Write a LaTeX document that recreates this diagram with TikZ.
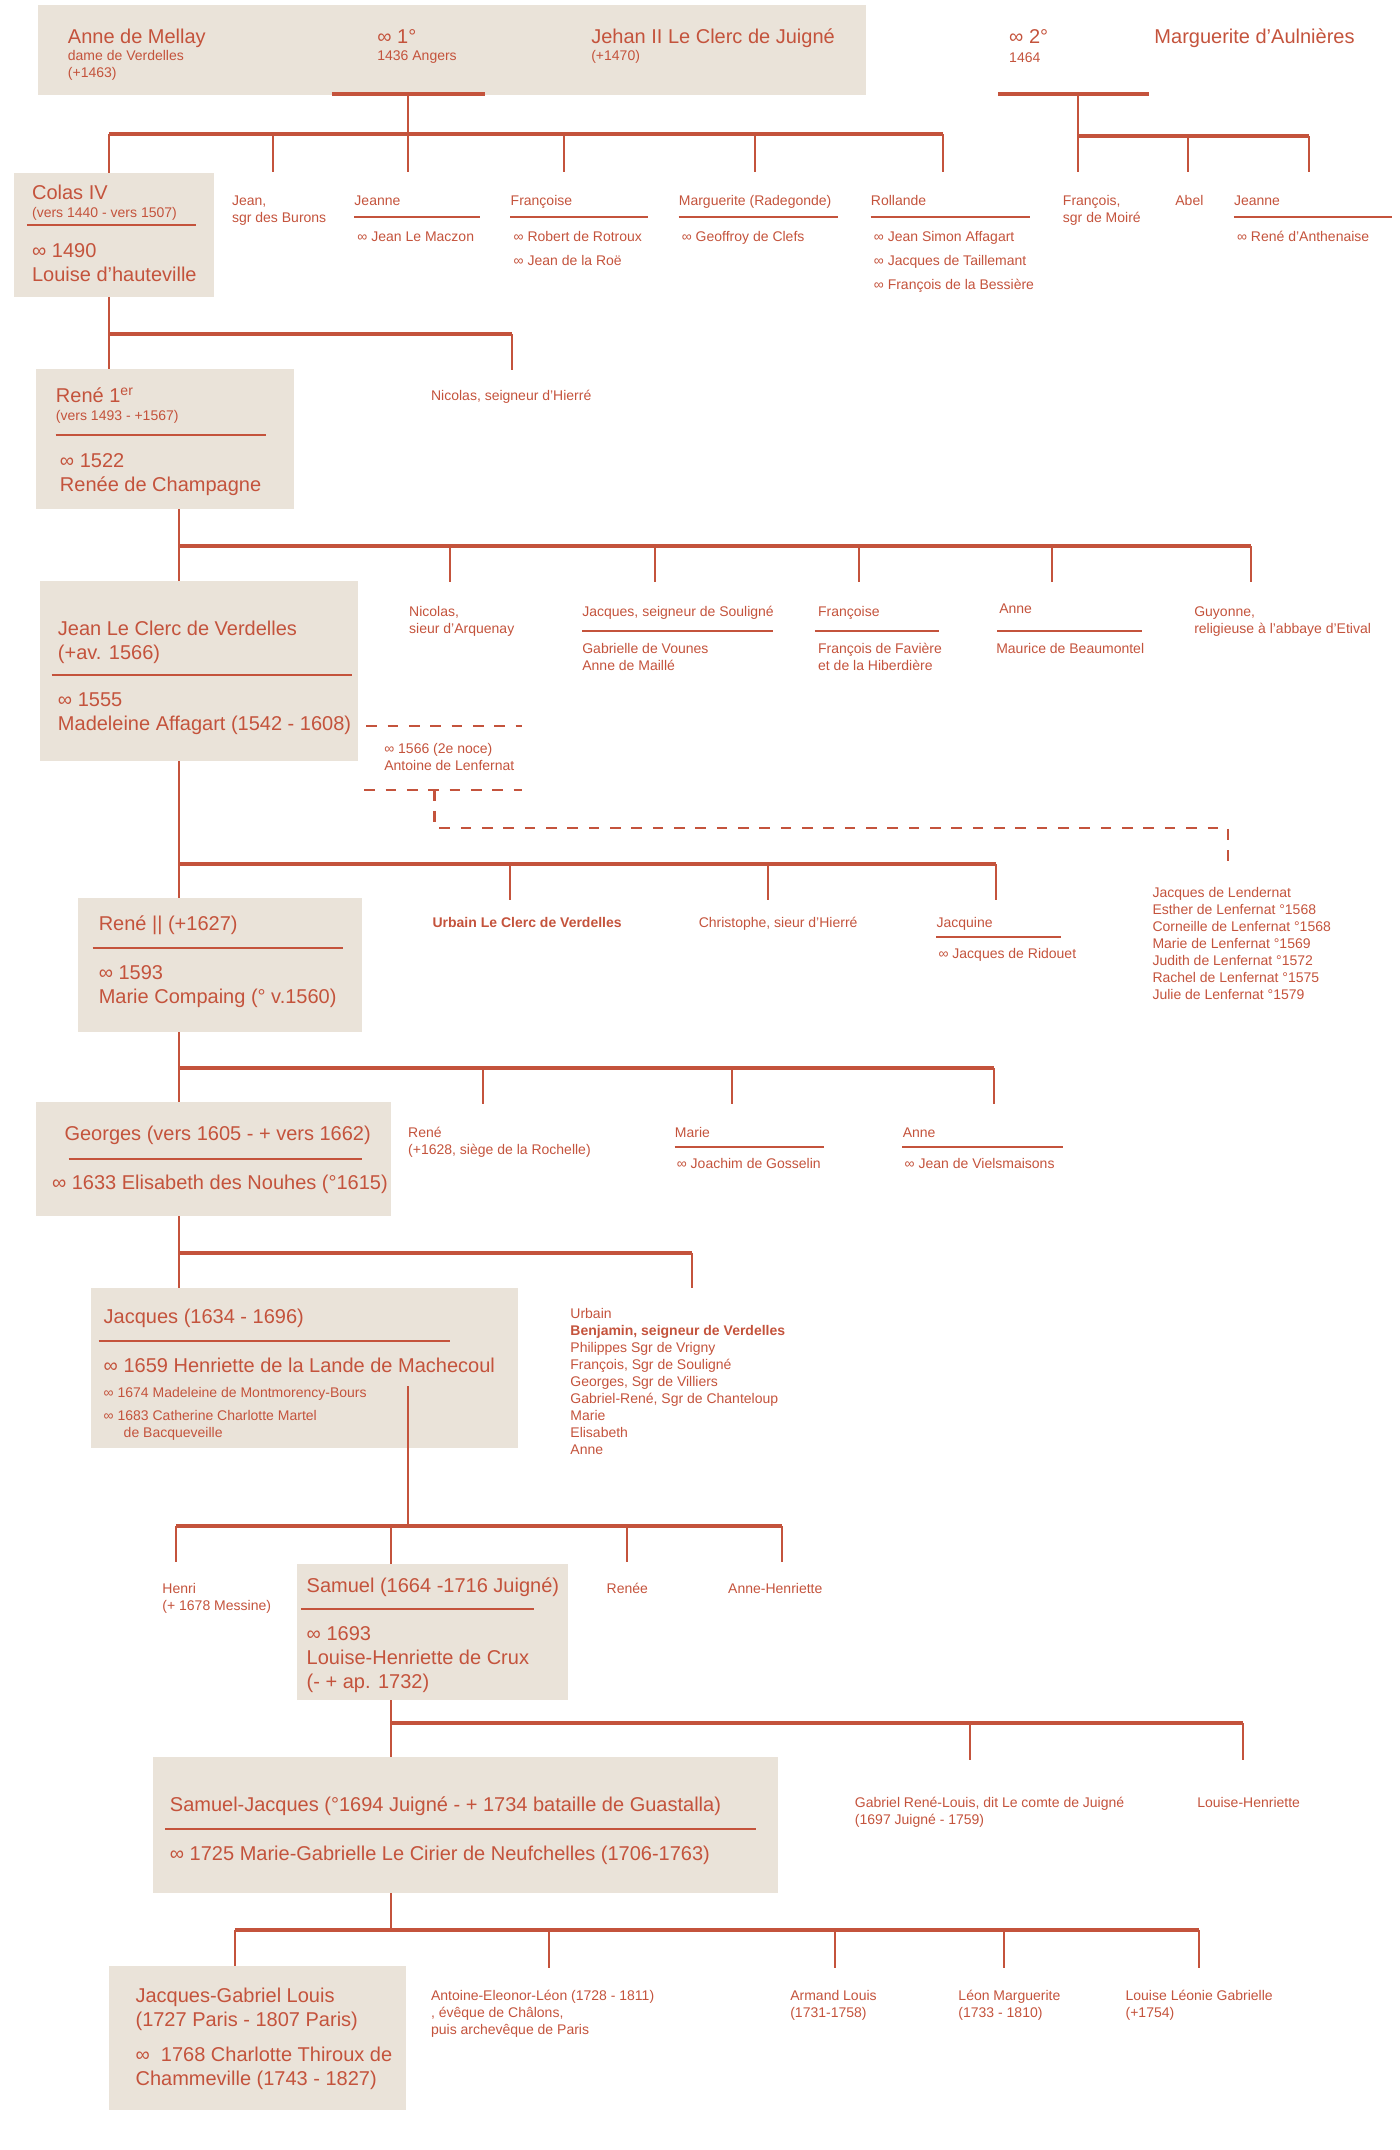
\documentclass[tikz,border=0pt]{standalone}
\usepackage{fontspec}
\setmainfont{Liberation Sans}
\usetikzlibrary{fit}
\definecolor{brique}{HTML}{C4533C}
\definecolor{sable}{HTML}{EAE3D9}
\newcommand{\grosfont}{\fontsize{15}{18}\selectfont}
\newcommand{\petitfont}{\fontsize{10.5}{12.75}\selectfont}
% plusieurs lignes, ligne de base sur la premiere
\newcommand{\lignes}[1]{\begin{tabular}[t]{@{}l@{}}#1\end{tabular}}
\tikzset{
  gros/.style={font=\grosfont, text=brique, anchor=base west, inner sep=0pt},
  petit/.style={font=\petitfont, text=brique, anchor=base west, inner sep=0pt},
  boite/.style={fill=sable, draw=none, inner sep=0pt},
  barre/.style={draw=brique, line width=2.6pt},
  fil/.style={draw=brique, line width=1.5pt},
  trait/.style={draw=brique, line width=0.8pt},
  pointille/.style={draw=brique, line width=2pt, dash pattern=on 8pt off 8pt},
}
\begin{document}
\begin{tikzpicture}[x=0.74626pt, y=-0.75pt]
  \useasboundingbox (0,0) rectangle (1407,2150);
  % les boites
  \node[boite, fit={(38.6,5) (870.7,95)}] (anne) {};
  \node[boite, fit={(14,173) (215,297)}] (colas) {};
  \node[boite, fit={(36,369) (295,509)}] (rene) {};
  \node[boite, fit={(40,581) (360,761)}] (jean) {};
  \node[boite, fit={(78,898) (363.5,1032)}] (reneII) {};
  \node[boite, fit={(36,1102) (393,1216)}] (georges) {};
  \node[boite, fit={(91,1288) (521,1448)}] (jacques) {};
  \node[boite, fit={(298,1564) (571,1700)}] (samuel) {};
  \node[boite, fit={(154,1757) (782,1893)}] (samjac) {};
  \node[boite, fit={(110,1966) (408,2110)}] (jacgab) {};

  % mariages et barres
  \coordinate (m1) at (410,94);
  \coordinate (m2) at (1083,94);
  \coordinate (g1) at (109.5,134);
  \coordinate (g2) at (1083,136);
  \draw[barre] (334,94) -- (487,94);
  \draw[barre] (1003,94) -- (1155,94);
  \draw[fil] (m1) -- (m1 |- g1);
  \draw[fil] (m2) -- (g2);
  \draw[barre] (g1) -- (948,134);
  \draw[barre] (g2) -- (1316,136);
  \draw[fil] (g1) -- (colas.north -| g1);
  \foreach \x in {274,410,567,758.5,948}
    \draw[fil] (\x,134) -- (\x,172);
  \foreach \x in {1083,1194,1316}
    \draw[fil] (\x,136) -- (\x,172);

  \coordinate (g3) at (109.5,334);
  \draw[fil] (colas.south -| g3) -- (rene.north -| g3);
  \draw[barre] (g3) -- (515,334);
  \draw[fil] (515,334) -- (515,370);

  \coordinate (g4) at (179.5,546);
  \draw[fil] (rene.south -| g4) -- (jean.north -| g4);
  \draw[barre] (g4) -- (1257,546);
  \foreach \x in {452,658,863,1057,1257}
    \draw[fil] (\x,546) -- (\x,582);

  \coordinate (g5) at (179.5,864);
  \draw[fil] (jean.south -| g5) -- (reneII.north -| g5);
  \draw[barre] (g5) -- (1001,864);
  \foreach \x in {512.5,772,1001}
    \draw[fil] (\x,864) -- (\x,900);

  \coordinate (g6) at (179.5,1068);
  \draw[fil] (reneII.south -| g6) -- (georges.north -| g6);
  \draw[barre] (g6) -- (999,1068);
  \foreach \x in {485,736,999}
    \draw[fil] (\x,1068) -- (\x,1104);

  \coordinate (g7) at (179.5,1253);
  \draw[fil] (georges.south -| g7) -- (jacques.north -| g7);
  \draw[barre] (g7) -- (695,1253);
  \draw[fil] (695,1253) -- (695,1288);

  \coordinate (j8) at (410,1386);
  \coordinate (g8) at (177,1526);
  \draw[fil] (j8) -- (j8 |- g8);
  \draw[barre] (g8) -- (786,1526);
  \draw[fil] (393,1526) -- (samuel.north -| 393,0);
  \foreach \x in {177,630,786}
    \draw[fil] (\x,1526) -- (\x,1562);

  \coordinate (g9) at (393,1723);
  \draw[fil] (samuel.south -| g9) -- (samjac.north -| g9);
  \draw[barre] (g9) -- (1249,1723);
  \foreach \x in {975,1249}
    \draw[fil] (\x,1723) -- (\x,1760);

  \coordinate (g10) at (393,1930);
  \draw[fil] (samjac.south -| g10) -- (g10);
  \draw[barre] (236,1930) -- (1205,1930);
  \draw[fil] (236,1930) -- (jacgab.north -| 236,0);
  \foreach \x in {552,839,1009,1205}
    \draw[fil] (\x,1930) -- (\x,1968);

  % seconde noce
  \coordinate (noce) at (437,790);
  \coordinate (lenf) at (1234,868);
  \draw[pointille] (368,726) -- (525,726);
  \draw[pointille] (366,790) -- (525,790);
  \draw[pointille] (noce) -- (437,828) -- (1234,828) -- (lenf);

  % generation 1
  \node[gros] (t1) at (68,43) {Anne de Mellay};
  \node[petit] (t2) at (68,60) {\lignes{dame de Verdelles\\(+1463)}};
  \node[gros] (t3) at (379,43) {∞ 1°};
  \node[petit] (t4) at (379,60) {1436 Angers};
  \node[gros] (t5) at (594,43) {Jehan II Le Clerc de Juigné};
  \node[petit] (t6) at (594,60) {(+1470)};
  \node[gros] (t7) at (1014,43) {∞ 2°};
  \node[petit] (t8) at (1014,62) {1464};
  \node[gros] (t9) at (1160,43) {Marguerite d'Aulnières};

  % generation 2
  \node[gros] (c1) at (32,199) {Colas IV};
  \node[petit] (c2) at (32,217) {(vers 1440 - vers 1507)};
  \draw[trait] (27,225) -- (197,225);
  \node[gros] (c3) at (32,257) {\lignes{∞ 1490\\Louise d'hauteville}};
  \node[petit] (f1) at (233,205) {\lignes{Jean,\\sgr des Burons}};
  \node[petit] (f2) at (356,205) {Jeanne};
  \draw[trait] (356,217) -- (482,217);
  \node[petit] (f3) at (359,241) {∞ Jean Le Maczon};
  \node[petit] (f4) at (513,205) {Françoise};
  \draw[trait] (513,217) -- (651,217);
  \node[petit] (f5) at (516,241) {\lignes{∞ Robert de Rotroux\\[5.25pt]∞ Jean de la Roë}};
  \node[petit] (f6) at (682,205) {Marguerite (Radegonde)};
  \draw[trait] (682,217) -- (842,217);
  \node[petit] (f7) at (685,241) {∞ Geoffroy de Clefs};
  \node[petit] (f8) at (875,205) {Rollande};
  \draw[trait] (875,217) -- (1035,217);
  \node[petit] (f9) at (878,241) {\lignes{∞ Jean Simon Affagart\\[5.25pt]∞ Jacques de Taillemant\\[5.25pt]∞ François de la Bessière}};
  \node[petit] (f10) at (1068,205) {\lignes{François,\\sgr de Moiré}};
  \node[petit] (f11) at (1181,205) {Abel};
  \node[petit] (f12) at (1240,205) {Jeanne};
  \draw[trait] (1240,217) -- (1399,217);
  \node[petit] (f13) at (1243,241) {∞ René d'Anthenaise};

  % generation 3
  \node[petit] (n1) at (433,400) {Nicolas, seigneur d'Hierré};
  \node[gros] (r1) at (56,402) {René 1\textsuperscript{er}};
  \node[petit] (r2) at (56,420) {(vers 1493 - +1567)};
  \draw[trait] (56,435) -- (267,435);
  \node[gros] (r3) at (60,467) {\lignes{∞ 1522\\Renée de Champagne}};

  % generation 4
  \node[gros] (j1) at (58,635) {\lignes{Jean Le Clerc de Verdelles\\(+av. 1566)}};
  \draw[trait] (52,675) -- (354,675);
  \node[gros] (j2) at (58,706) {\lignes{∞ 1555\\Madeleine Affagart (1542 - 1608)}};
  \node[petit] (k1) at (411,616) {\lignes{Nicolas,\\sieur d'Arquenay}};
  \node[petit] (k2) at (585,616) {Jacques, seigneur de Souligné};
  \draw[trait] (585,631) -- (777,631);
  \node[petit] (k3) at (585,653) {\lignes{Gabrielle de Vounes\\Anne de Maillé}};
  \node[petit] (k4) at (822,616) {Françoise};
  \draw[trait] (819,631) -- (944,631);
  \node[petit] (k5) at (822,653) {\lignes{François de Favière\\et de la Hiberdière}};
  \node[petit] (k6) at (1004,613) {Anne};
  \draw[trait] (1002,631) -- (1148,631);
  \node[petit] (k7) at (1001,653) {Maurice de Beaumontel};
  \node[petit] (k8) at (1200,616) {\lignes{Guyonne,\\religieuse à l'abbaye d'Etival}};
  \node[petit] (k9) at (386,753) {\lignes{∞ 1566 (2e noce)\\Antoine de Lenfernat}};

  % generation 5
  \node[gros] (s1) at (99,930) {René || (+1627)};
  \draw[trait] (93,948) -- (345,948);
  \node[gros] (s2) at (99,979) {\lignes{∞ 1593\\Marie Compaing (° v.1560)}};
  \node[petit, font=\petitfont\bfseries] (u1) at (434.5,927) {Urbain Le Clerc de Verdelles};
  \node[petit] (u2) at (702,927) {Christophe, sieur d'Hierré};
  \node[petit] (u3) at (941,927) {Jacquine};
  \draw[trait] (941,937) -- (1066,937);
  \node[petit] (u4) at (943,958) {∞ Jacques de Ridouet};
  \node[petit] (u5) at (1158,897) {\lignes{Jacques de Lendernat\\Esther de Lenfernat °1568\\Corneille de Lenfernat °1568\\Marie de Lenfernat °1569\\Judith de Lenfernat °1572\\Rachel de Lenfernat °1575\\Julie de Lenfernat °1579}};

  % generation 6
  \node[gros] (o1) at (64.6,1140) {Georges (vers 1605 - + vers 1662)};
  \draw[trait] (69,1159) -- (364,1159);
  \node[gros] (o2) at (52,1189) {∞ 1633 Elisabeth des Nouhes (°1615)};
  \node[petit] (v1) at (410,1137) {\lignes{René\\(+1628, siège de la Rochelle)}};
  \node[petit] (v2) at (678,1137) {Marie};
  \draw[trait] (678,1147) -- (828,1147);
  \node[petit] (v3) at (680,1168) {∞ Joachim de Gosselin};
  \node[petit] (v4) at (907,1137) {Anne};
  \draw[trait] (907,1147) -- (1068,1147);
  \node[petit] (v5) at (909,1168) {∞ Jean de Vielsmaisons};

  % generation 7
  \node[gros] (q1) at (104,1323) {Jacques (1634 - 1696)};
  \draw[trait] (99,1341) -- (452,1341);
  \node[gros] (q2) at (104,1372) {∞ 1659 Henriette de la Lande de Machecoul};
  \node[petit] (q3) at (104,1397) {∞ 1674 Madeleine de Montmorency-Bours};
  \node[petit] (q4) at (104,1420) {\lignes{∞ 1683 Catherine Charlotte Martel\\\hspace*{15pt}de Bacqueveille}};
  \node[petit] (w1) at (573,1318) {\lignes{Urbain\\\textbf{Benjamin, seigneur de Verdelles}\\Philippes Sgr de Vrigny\\François, Sgr de Souligné\\Georges, Sgr de Villiers\\Gabriel-René, Sgr de Chanteloup\\Marie\\Elisabeth\\Anne}};

  % generation 8
  \node[petit] (h1) at (163,1593) {\lignes{Henri\\(+ 1678 Messine)}};
  \node[gros] (h2) at (308,1592) {Samuel (1664 -1716 Juigné)};
  \draw[trait] (302.5,1609) -- (537,1609);
  \node[gros] (h3) at (308,1640) {\lignes{∞ 1693\\Louise-Henriette de Crux\\(- + ap. 1732)}};
  \node[petit] (h4) at (609.5,1593) {Renée};
  \node[petit] (h5) at (731.6,1593) {Anne-Henriette};

  % generation 9
  \node[gros] (p1) at (170.5,1811) {Samuel-Jacques (°1694 Juigné - + 1734 bataille de Guastalla)};
  \draw[trait] (166,1829) -- (760,1829);
  \node[gros] (p2) at (170.5,1860) {∞ 1725 Marie-Gabrielle Le Cirier de Neufchelles (1706-1763)};
  \node[petit] (p3) at (859,1807) {\lignes{Gabriel René-Louis, dit Le comte de Juigné\\(1697 Juigné - 1759)}};
  \node[petit] (p4) at (1203,1807) {Louise-Henriette};

  % generation 10
  \node[gros] (l1) at (136,2002) {\lignes{Jacques-Gabriel Louis\\(1727 Paris - 1807 Paris)}};
  \node[gros] (l2) at (136,2061) {\lignes{∞\ \ 1768 Charlotte Thiroux de\\Chammeville (1743 - 1827)}};
  \node[petit] (l3) at (433,2000) {\lignes{Antoine-Eleonor-Léon (1728 - 1811)\\, évêque de Châlons,\\puis archevêque de Paris}};
  \node[petit] (l4) at (794,2000) {\lignes{Armand Louis\\(1731-1758)}};
  \node[petit] (l5) at (963,2000) {\lignes{Léon Marguerite\\(1733 - 1810)}};
  \node[petit] (l6) at (1131,2000) {\lignes{Louise Léonie Gabrielle\\(+1754)}};
\end{tikzpicture}
\end{document}
